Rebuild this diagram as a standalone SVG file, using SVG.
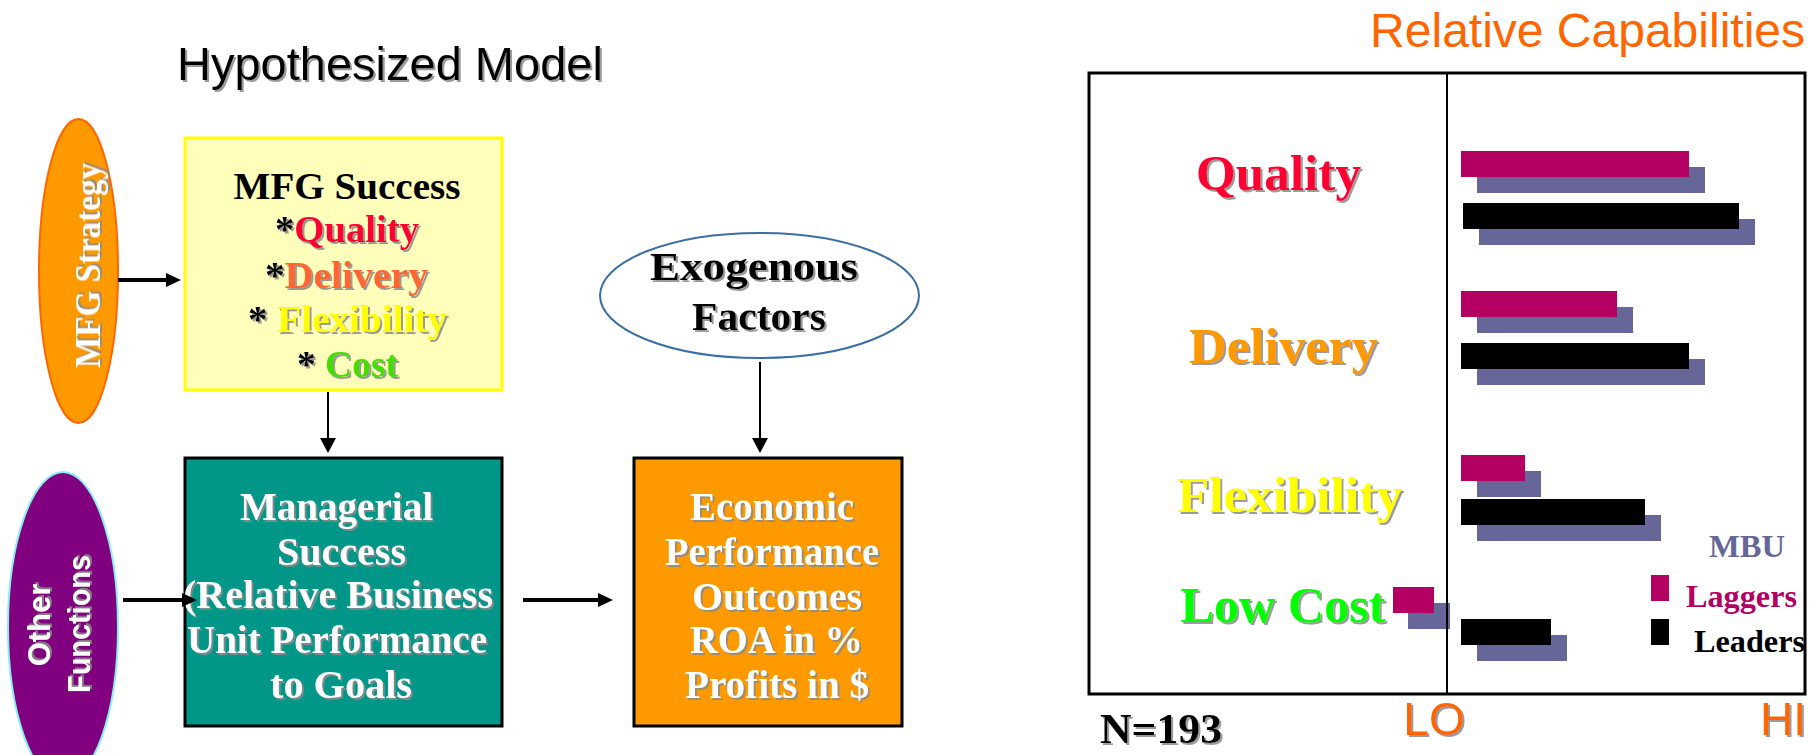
<svg xmlns="http://www.w3.org/2000/svg" width="1817" height="755" viewBox="0 0 1817 755">
<style>
.serif{font-family:"Liberation Serif","Times New Roman",serif;font-weight:bold}
.sans{font-family:"Liberation Sans",Arial,sans-serif}
.sh{filter:url(#sh)}
.wt{fill:#ffffff}
.conn{stroke:#000;fill:none}
.mbu{fill:#666699}
.lag{fill:#B30062}
.lead{fill:#000}
</style>
<defs>
<filter id="sh" x="-10%" y="-10%" width="120%" height="130%">
<feDropShadow dx="2" dy="2" stdDeviation="0.6" flood-color="#8a8a8a" flood-opacity="0.85"/>
</filter>
<marker id="ah" markerUnits="userSpaceOnUse" markerWidth="16" markerHeight="16" refX="3" refY="7" orient="auto">
<path d="M0,0 L15,7 L0,14 z" fill="#000"/>
</marker>
<marker id="ahs" markerUnits="userSpaceOnUse" markerWidth="16" markerHeight="18" refX="3" refY="8" orient="auto">
<path d="M0,0 L15,8 L0,16 z" fill="#000"/>
</marker>
</defs>
<rect width="1817" height="755" fill="#ffffff"/>

<text id="title" class="sans sh" x="177" y="80" font-size="47" fill="#000">Hypothesized Model</text>

<g id="mfg-strategy">
<ellipse cx="78.5" cy="271" rx="39.5" ry="152" fill="#FF9900" stroke="#FF6600" stroke-width="2"/>
<text class="serif sh wt" transform="translate(100,265.5) rotate(-90)" text-anchor="middle" font-size="36" textLength="205" lengthAdjust="spacingAndGlyphs">MFG Strategy</text>
</g>

<g id="mfg-success">
<rect x="185" y="138" width="317" height="252" fill="#FFFFBB" stroke="#FFFF00" stroke-width="3"/>
<text class="serif" x="347" y="199" text-anchor="middle" font-size="37" fill="#000" textLength="227" lengthAdjust="spacingAndGlyphs">MFG Success</text>
<text class="serif sh" x="347" y="242" text-anchor="middle" font-size="38" textLength="144" lengthAdjust="spacingAndGlyphs"><tspan fill="#000">*</tspan><tspan fill="#FF0033">Quality</tspan></text>
<text class="serif sh" x="346.5" y="288" text-anchor="middle" font-size="38" textLength="163" lengthAdjust="spacingAndGlyphs"><tspan fill="#000">*</tspan><tspan fill="#FF6633">Delivery</tspan></text>
<text class="serif sh" x="347.5" y="332" text-anchor="middle" font-size="38" textLength="199" lengthAdjust="spacingAndGlyphs"><tspan fill="#000">* </tspan><tspan fill="#FFFF00">Flexibility</tspan></text>
<text class="serif sh" x="347.5" y="377" text-anchor="middle" font-size="38" textLength="101" lengthAdjust="spacingAndGlyphs"><tspan fill="#000">* </tspan><tspan fill="#44DD00">Cost</tspan></text>
</g>

<g id="other-functions">
<ellipse cx="63" cy="627" rx="55" ry="155" fill="#800080" stroke="#88EEEE" stroke-width="2"/>
<text class="sans sh wt" font-weight="bold" transform="translate(50,625) rotate(-90)" text-anchor="middle" font-size="31">Other</text>
<text class="sans sh wt" font-weight="bold" transform="translate(90,624) rotate(-90)" text-anchor="middle" font-size="31" textLength="138" lengthAdjust="spacingAndGlyphs">Functions</text>
</g>

<g id="managerial-success">
<rect x="185" y="458" width="317" height="268" fill="#009688" stroke="#000" stroke-width="3"/>
<text class="serif sh wt" x="336.5" y="520" text-anchor="middle" font-size="39" textLength="193" lengthAdjust="spacingAndGlyphs">Managerial</text>
<text class="serif sh wt" x="341.5" y="565" text-anchor="middle" font-size="39" textLength="129" lengthAdjust="spacingAndGlyphs">Success</text>
<text class="serif sh wt" x="338" y="608" text-anchor="middle" font-size="39" textLength="310" lengthAdjust="spacingAndGlyphs">(Relative Business</text>
<text class="serif sh wt" x="337" y="653" text-anchor="middle" font-size="39" textLength="300" lengthAdjust="spacingAndGlyphs">Unit Performance</text>
<text class="serif sh wt" x="341" y="698" text-anchor="middle" font-size="39" textLength="142" lengthAdjust="spacingAndGlyphs">to Goals</text>
</g>

<g id="exogenous-factors">
<ellipse cx="759.5" cy="295.5" rx="159.5" ry="62.5" fill="#ffffff" stroke="#3A6EA5" stroke-width="2"/>
<text class="serif sh" x="754" y="280" text-anchor="middle" font-size="39" fill="#000" textLength="208" lengthAdjust="spacingAndGlyphs">Exogenous</text>
<text class="serif sh" x="759" y="330" text-anchor="middle" font-size="39" fill="#000" textLength="134" lengthAdjust="spacingAndGlyphs">Factors</text>
</g>

<g id="economic-performance">
<rect x="634" y="458" width="268" height="268" fill="#FF9900" stroke="#000" stroke-width="3"/>
<text class="serif sh wt" x="772" y="520" text-anchor="middle" font-size="39" textLength="164" lengthAdjust="spacingAndGlyphs">Economic</text>
<text class="serif sh wt" x="772" y="565" text-anchor="middle" font-size="39" textLength="214" lengthAdjust="spacingAndGlyphs">Performance</text>
<text class="serif sh wt" x="777" y="610" text-anchor="middle" font-size="39" textLength="170" lengthAdjust="spacingAndGlyphs">Outcomes</text>
<text class="serif sh wt" x="776.5" y="653" text-anchor="middle" font-size="39" textLength="173" lengthAdjust="spacingAndGlyphs">ROA in %</text>
<text class="serif sh wt" x="777" y="698" text-anchor="middle" font-size="39" textLength="184" lengthAdjust="spacingAndGlyphs">Profits in $</text>
</g>

<g id="connectors">
<line class="conn" x1="118" y1="280" x2="169" y2="280" stroke-width="4" marker-end="url(#ah)"/>
<line class="conn" x1="123" y1="600" x2="185" y2="600" stroke-width="4" marker-end="url(#ah)"/>
<line class="conn" x1="523" y1="600" x2="601" y2="600" stroke-width="4" marker-end="url(#ah)"/>
<line class="conn" x1="328" y1="392" x2="328" y2="441" stroke-width="2" marker-end="url(#ahs)"/>
<line class="conn" x1="760" y1="362" x2="760" y2="441" stroke-width="2" marker-end="url(#ahs)"/>
</g>

<g id="chart">
<text class="sans" x="1805" y="47" text-anchor="end" font-size="48" fill="#FF6600">Relative Capabilities</text>
<rect x="1089" y="73" width="716" height="621" fill="#ffffff" stroke="#000" stroke-width="3"/>
<g id="bars">
<rect class="mbu" x="1477" y="167" width="228" height="26"/>
<rect class="lag" x="1461" y="151" width="228" height="26"/>
<rect class="mbu" x="1479" y="219" width="276" height="26"/>
<rect class="lead" x="1463" y="203" width="276" height="26"/>
<rect class="mbu" x="1477" y="307" width="156" height="26"/>
<rect class="lag" x="1461" y="291" width="156" height="26"/>
<rect class="mbu" x="1477" y="359" width="228" height="26"/>
<rect class="lead" x="1461" y="343" width="228" height="26"/>
<rect class="mbu" x="1477" y="471" width="64" height="26"/>
<rect class="lag" x="1461" y="455" width="64" height="26"/>
<rect class="mbu" x="1477" y="515" width="184" height="26"/>
<rect class="lead" x="1461" y="499" width="184" height="26"/>
<rect class="mbu" x="1408" y="603" width="42" height="26"/>
<rect class="lag" x="1393" y="587" width="41" height="26"/>
<rect class="mbu" x="1477" y="635" width="90" height="26"/>
<rect class="lead" x="1461" y="619" width="90" height="26"/>
</g>
<line x1="1447" y1="73" x2="1447" y2="694" stroke="#000" stroke-width="2"/>
<text class="serif sh" x="1278.5" y="190" text-anchor="middle" font-size="51" fill="#FF0033" textLength="165" lengthAdjust="spacingAndGlyphs">Quality</text>
<text class="serif sh" x="1283.5" y="363" text-anchor="middle" font-size="51" fill="#FF9900" textLength="189" lengthAdjust="spacingAndGlyphs">Delivery</text>
<text class="serif sh" x="1290" y="512" text-anchor="middle" font-size="51" fill="#FFFF00" textLength="225" lengthAdjust="spacingAndGlyphs">Flexibility</text>
<text class="serif sh" x="1283" y="622" text-anchor="middle" font-size="51" fill="#00FF00" textLength="205" lengthAdjust="spacingAndGlyphs">Low Cost</text>
<g id="legend">
<rect class="lag" x="1651" y="575" width="18" height="26"/>
<rect class="lead" x="1651" y="619" width="18" height="26"/>
<text class="serif" x="1709" y="557" font-size="31" fill="#666699" textLength="76" lengthAdjust="spacingAndGlyphs">MBU</text>
<text class="serif" x="1686" y="607" font-size="31" fill="#B30062" textLength="111" lengthAdjust="spacingAndGlyphs">Laggers</text>
<text class="serif" x="1694" y="652" font-size="31" fill="#000" textLength="111" lengthAdjust="spacingAndGlyphs">Leaders</text>
</g>
<text class="serif sh" x="1100" y="743" font-size="42" fill="#000" textLength="122" lengthAdjust="spacingAndGlyphs">N=193</text>
<text class="sans sh" x="1434" y="735" text-anchor="middle" font-size="46" fill="#FF6600">LO</text>
<text class="sans sh" x="1806" y="735" text-anchor="end" font-size="46" fill="#FF6600">HI</text>
</g>
</svg>
